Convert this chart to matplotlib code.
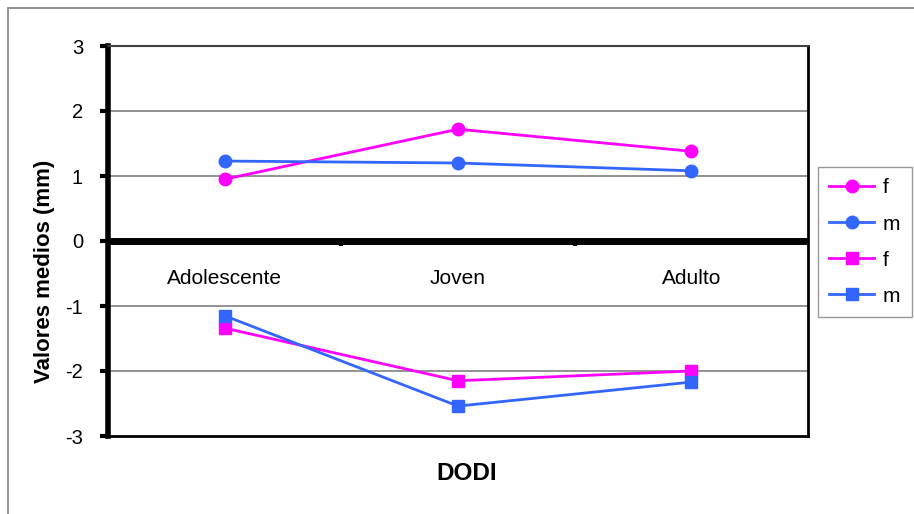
import matplotlib.pyplot as plt
from matplotlib.lines import Line2D
from matplotlib.patches import Rectangle

plt.rcParams['font.family'] = ['Liberation Sans', 'DejaVu Sans']

# Mean values per age group
grupos = ['Adolescente', 'Joven', 'Adulto']
f_sup = [0.95, 1.72, 1.38]
m_sup = [1.23, 1.20, 1.08]
f_inf = [-1.34, -2.15, -2.00]
m_inf = [-1.15, -2.54, -2.17]
y_ticks = [-3, -2, -1, 0, 1, 2, 3]

ROSA = '#FF00FF'
AZUL = '#3366FF'

fig = plt.figure(figsize=(9.14, 5.14), dpi=100)
ax = fig.add_axes([108 / 914, 78 / 514, 700 / 914, 390 / 514])

x = list(range(len(grupos)))
ax.plot(x, f_sup, color=ROSA, lw=2, marker='o', ms=9, label='f', zorder=4)
ax.plot(x, m_sup, color=AZUL, lw=2, marker='o', ms=9, label='m', zorder=4)
ax.plot(x, f_inf, color=ROSA, lw=2, marker='s', ms=9, label='f', zorder=4)
ax.plot(x, m_inf, color=AZUL, lw=2, marker='s', ms=9, label='m', zorder=4)

ax.set_xlim(-0.5, len(grupos) - 0.5)
ax.set_ylim(-3, 3)
ax.set_yticks(y_ticks)
ax.set_yticklabels([str(v) for v in y_ticks], fontsize=14.5)
ax.tick_params(axis='y', direction='out', length=6, width=3, pad=12)
ax.set_xticks([])

for v in [1, 2, -1, -2]:
    ax.axhline(v, color='#808080', lw=1.2, zorder=1)
ax.axhline(0, color='black', lw=5, zorder=3)

# small ticks on the zero axis between categories
for xv in [0.5, 1.5]:
    ax.plot([xv, xv], [0, -0.08], color='black', lw=3, zorder=3, solid_capstyle='butt')

for i, g in enumerate(grupos):
    ax.text(i, -0.57, g, ha='center', va='center', fontsize=15)

ax.spines['left'].set_linewidth(4)
ax.spines['right'].set_linewidth(2)
ax.spines['bottom'].set_linewidth(2)
ax.spines['top'].set_linewidth(1.5)
ax.spines['top'].set_color('#404040')

fig.text(45 / 914, 1 - 271 / 514, 'Valores medios (mm)', rotation=90,
         ha='center', va='center', fontsize=16, fontweight='bold')
fig.text(467 / 914, 1 - 474 / 514, 'DODI', ha='center', va='center',
         fontsize=17.5, fontweight='bold')

handles = [
    Line2D([], [], color=ROSA, lw=2, marker='o', ms=9),
    Line2D([], [], color=AZUL, lw=2, marker='o', ms=9),
    Line2D([], [], color=ROSA, lw=2, marker='s', ms=9),
    Line2D([], [], color=AZUL, lw=2, marker='s', ms=9),
]
leg = fig.legend(handles, ['f', 'm', 'f', 'm'], loc='upper left',
                 bbox_to_anchor=(818 / 914, 1 - 167 / 514), fontsize=15,
                 frameon=True, fancybox=False, edgecolor='#808080',
                 handlelength=2.15, labelspacing=0.82, borderpad=0.55,
                 handletextpad=0.4, borderaxespad=0)
leg.get_frame().set_linewidth(1)

# outer chart frame
fig.add_artist(Rectangle((8 / 914, -0.1), 2, 1.0 - 8 / 514 + 0.1,
                         transform=fig.transFigure, fill=False,
                         edgecolor='#808080', lw=1.2))

fig.savefig('out.png', dpi=100)
